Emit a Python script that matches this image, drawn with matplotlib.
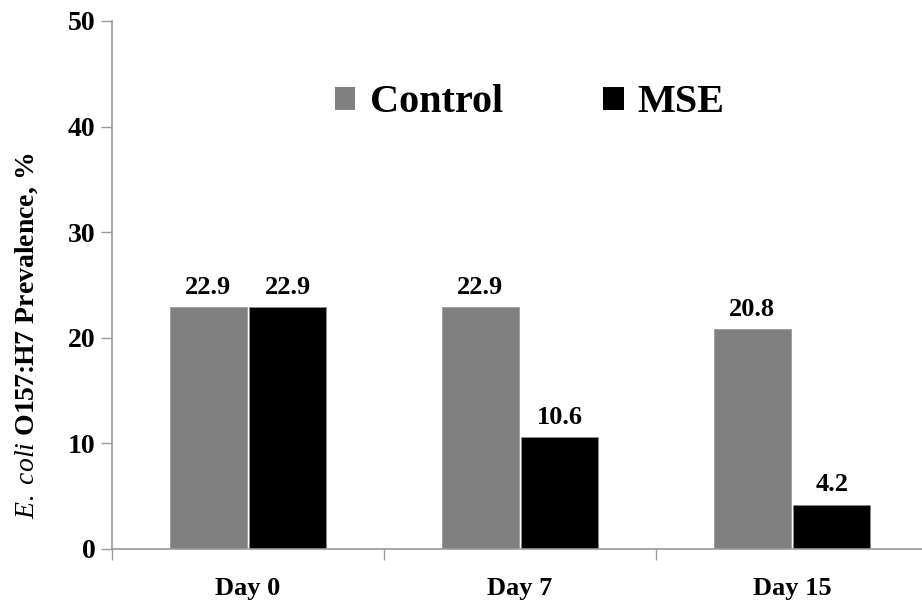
import matplotlib
matplotlib.use("Agg")
import matplotlib.pyplot as plt
from matplotlib.patches import Patch
import numpy as np

days = ["Day 0", "Day 7", "Day 15"]
control = [22.9, 22.9, 20.8]
mse = [22.9, 10.6, 4.2]
y_ticks = [0, 10, 20, 30, 40, 50]

plt.rcParams["font.family"] = ["Liberation Serif", "DejaVu Serif"]
plt.rcParams["mathtext.fontset"] = "custom"
plt.rcParams["mathtext.it"] = "Liberation Serif:italic"
plt.rcParams["mathtext.rm"] = "Liberation Serif"
plt.rcParams["mathtext.bf"] = "Liberation Serif:bold"

fig = plt.figure(figsize=(9.22, 6.12), dpi=100)
W, H = 922, 612
x0, x1 = 112, 928
y0, y1 = 549, 21
ax = fig.add_axes([x0 / W, (H - y0) / H, (x1 - x0) / W, (y0 - y1) / H])

x = np.arange(len(days))
bw = 0.285
off = 0.146
ctrl_color = "#808080"
mse_color = "#000000"

b1 = ax.bar(x - off, control, bw, color=ctrl_color, edgecolor="#9a9a9a", linewidth=0.6)
b2 = ax.bar(x + off, mse, bw, color=mse_color, edgecolor="#8a8a8a", linewidth=0.6)

for rects, vals in ((b1, control), (b2, mse)):
    for r, v in zip(rects, vals):
        ax.annotate(f"{v:.1f}", (r.get_x() + r.get_width() / 2, v),
                    xytext=(0, 6), textcoords="offset points",
                    ha="center", va="bottom", fontsize=19, fontweight="bold")

ax.set_xlim(-0.5, 2.5)
ax.set_ylim(0, 50)
ax.set_yticks(y_ticks)
ax.set_yticklabels([str(t) for t in y_ticks], fontsize=20, fontweight="bold")

# category labels centred, ticks at the group boundaries
ax.set_xticks(x)
ax.set_xticklabels(days, fontsize=19, fontweight="bold")
ax.tick_params(axis="x", length=0, pad=20)
ax.set_xticks(np.arange(-0.5, 3.0, 1.0), minor=True)
ax.tick_params(axis="x", which="minor", length=8, color="#999999", width=1)
ax.tick_params(axis="y", length=8, color="#999999", width=1, pad=4)

for s in ("top", "right"):
    ax.spines[s].set_visible(False)
for s in ("left", "bottom"):
    ax.spines[s].set_color("#999999")
    ax.spines[s].set_linewidth(1.2)

fig.text(27 / W, 1 - 336 / H,
         r"$\mathit{E.\ coli}$ O157:H7 Prevalence, %",
         rotation=90, ha="center", va="center",
         fontsize=20, fontweight="bold")

handles = [Patch(facecolor=ctrl_color, label="Control"),
           Patch(facecolor=mse_color, label="MSE")]
leg = ax.legend(handles=handles, ncol=2, frameon=False,
                loc="center", bbox_to_anchor=((530 - x0) / (x1 - x0), (y0 - 103) / (y0 - y1)),
                prop={"family": "Liberation Serif", "weight": "bold", "size": 29},
                handlelength=0.5, handleheight=0.5, handletextpad=0.35,
                columnspacing=2.5)

fig.savefig("out.png", dpi=100)
